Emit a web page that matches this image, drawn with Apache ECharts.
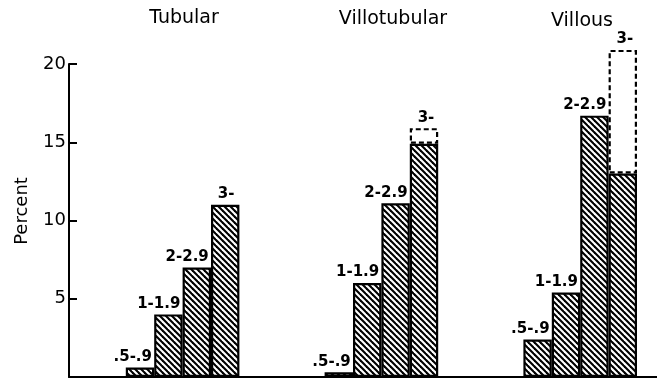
<!DOCTYPE html>
<html><head><meta charset="utf-8">
<script src="https://cdn.jsdelivr.net/npm/echarts@6/dist/echarts.min.js"></script>
<style>html,body{margin:0;padding:0;background:#fff}#c{width:660px;height:380px}</style>
</head><body><div id="c"></div>
<script>
// ---- data ----
const groups = ['Tubular', 'Villotubular', 'Villous'];
const sizeClasses = ['.5-.9', '1-1.9', '2-2.9', '3-'];
const tubular = [0.6, 4.0, 7.0, 11.0];
const villotubular = [0.3, 6.0, 11.1, 14.9];
const villous = [2.4, 5.4, 16.7, 13.0];
const dashedTop3 = [null, 15.9, 20.9];   // dashed upper extent of the "3-" bar
const yTicks = [0, 5, 10, 15, 20];

// ---- layout helpers (slots on a category axis) ----
const groupValues = [tubular, villotubular, villous];
const LEAD = 2, GAP = 3;
const slotNames = [], hatched = [], dashed = [];
function pushEmpty(n) { for (let i = 0; i < n; i++) { slotNames.push('gap' + slotNames.length); hatched.push(null); dashed.push(null); } }
pushEmpty(LEAD);
groups.forEach((g, gi) => {
  groupValues[gi].forEach((v, k) => {
    slotNames.push(g + ' ' + sizeClasses[k]);
    const hasExt = k === 3 && dashedTop3[gi] != null;
    const last = k === 3;
    hatched.push({
      value: v,
      label: {
        show: !hasExt,
        formatter: sizeClasses[k],
        align: last ? 'center' : 'right',
        offset: last ? [1, 0] : [12, 0]
      }
    });
    dashed.push(hasExt ? { value: +(dashedTop3[gi] - v).toFixed(2), label: { show: true, formatter: sizeClasses[k], offset: [2, 0] } } : null);
  });
  if (gi < groups.length - 1) pushEmpty(GAP);
});

function hatch() {
  const c = document.createElement('canvas'); c.width = 6; c.height = 6;
  const g = c.getContext('2d');
  g.fillStyle = '#fff'; g.fillRect(0, 0, 6, 6);
  g.strokeStyle = '#000'; g.lineWidth = 2.1;
  for (const s of [-6, 0, 6]) { g.beginPath(); g.moveTo(s - 1, -1); g.lineTo(s + 7, 7); g.stroke(); }
  return c;
}

const FONT = 'DejaVu Sans';
const labelStyle = { position: 'top', distance: 3, color: '#000', fontFamily: FONT, fontSize: 15, fontWeight: 'bold' };
const G = { left: 69, right: 23, top: 64, bottom: 3 };
const W = 660, H = 380;
const titleStyle = { font: '19px "DejaVu Sans"', fill: '#000', align: 'center', verticalAlign: 'middle' };

const chart = echarts.init(document.getElementById('c'), null, { renderer: 'canvas' });
chart.setOption({
  animation: false,
  backgroundColor: '#fff',
  grid: Object.assign({ containLabel: false }, G),
  xAxis: {
    type: 'category', data: slotNames, boundaryGap: true,
    axisLine: { lineStyle: { color: '#000', width: 2 } },
    axisTick: { show: false }, axisLabel: { show: false }, splitLine: { show: false }
  },
  yAxis: {
    type: 'value', min: yTicks[0], max: yTicks[yTicks.length - 1], interval: yTicks[1] - yTicks[0],
    axisLine: { show: true, lineStyle: { color: '#000', width: 2 } },
    axisTick: { show: true, inside: true, length: 8, lineStyle: { color: '#000', width: 2 } },
    axisLabel: { color: '#000', fontFamily: FONT, fontSize: 18, margin: 3, showMinLabel: false },
    splitLine: { show: false }
  },
  series: [
    {
      type: 'bar', stack: 's', data: hatched, barCategoryGap: '0%', clip: false,
      itemStyle: { color: { image: hatch(), repeat: 'repeat' }, borderColor: '#000', borderWidth: 2.2 },
      label: labelStyle
    },
    {
      type: 'bar', stack: 's', data: dashed, barCategoryGap: '0%', clip: false,
      itemStyle: { color: 'rgba(0,0,0,0)', borderColor: '#000', borderWidth: 2.2, borderType: [5, 3] },
      label: labelStyle
    }
  ],
  graphic: [
    { type: 'text', x: 184, y: 18, style: Object.assign({ text: groups[0] }, titleStyle) },
    { type: 'text', x: 393, y: 19, style: Object.assign({ text: groups[1] }, titleStyle) },
    { type: 'text', x: 582, y: 21, style: Object.assign({ text: groups[2] }, titleStyle) },
    { type: 'text', x: 22, y: 211, rotation: Math.PI / 2, style: { text: 'Percent', font: '18px "DejaVu Sans"', fill: '#000', align: 'center', verticalAlign: 'middle' } },
    // baseline continues a little beyond the last bar, as in the reference
    { type: 'line', shape: { x1: W - G.right - 1, y1: H - G.bottom, x2: 657, y2: H - G.bottom }, style: { stroke: '#000', lineWidth: 2 } }
  ]
});
</script>
</body></html>
